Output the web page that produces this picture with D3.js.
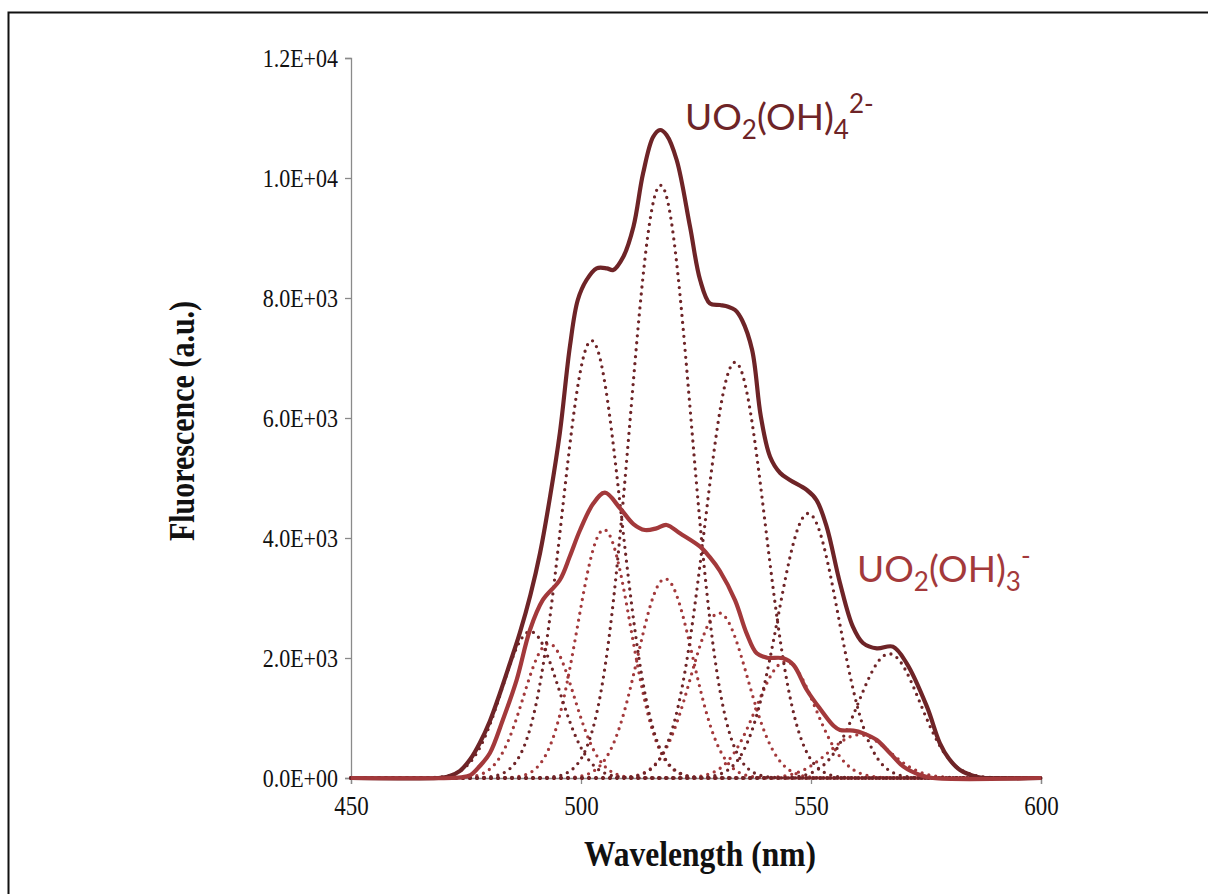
<!DOCTYPE html>
<html>
<head>
<meta charset="utf-8">
<script src="https://cdn.jsdelivr.net/npm/d3@7"></script>
<style>
  body { margin: 0; background: #fff; }
  svg { display: block; }
</style>
</head>
<body>
<svg id="chart" width="1208" height="894"></svg>
<script>
// Axis ranges and ticks
const xDomain = [450, 600];
const yDomain = [0, 12000];
const xTicks = [450, 500, 550, 600];
const yTicks = [0, 2000, 4000, 6000, 8000, 10000, 12000];
const yTickLabels = ["0.0E+00", "2.0E+03", "4.0E+03", "6.0E+03", "8.0E+03", "1.0E+04", "1.2E+04"];

// Measured spectrum of UO2(OH)4^2- : wavelength (nm) and fluorescence (a.u.)
const tetraWavelength = [450, 469, 471, 473.7, 476, 478, 480.2, 482.4, 484.5, 486.7, 489, 491.1, 493.3,
  495.4, 497.6, 499.3, 501.2, 503.4, 505.6, 507.0, 509.2, 511.4, 513.5, 515.7, 517.2, 518.6, 520.8,
  523.7, 525.9, 528.0, 530.2, 532.0, 533.5, 535.0, 537.2, 539.1, 541.1, 543.3, 545.4, 549.1, 551.2,
  553.4, 556.3, 559.1, 561.3, 564.3, 567.8, 570.8, 575.2, 578.0, 580.0, 582.4, 586.0, 588, 600];
const tetraSignal = [0, 0, 20, 120, 320, 583, 950, 1417, 1900, 2417, 3050, 3750, 4700,
  5750, 7200, 7967, 8300, 8495, 8495, 8467, 8688, 9188, 10078, 10688, 10800, 10717, 10300,
  9188, 8300, 7911, 7883, 7855, 7800, 7633, 7133, 6022, 5355, 5083, 4967, 4800, 4633,
  4189, 3250, 2522, 2250, 2161, 2189, 1911, 1189, 583, 320, 133, 22, 0, 0];

// Measured spectrum of UO2(OH)3^- : wavelength (nm) and fluorescence (a.u.)
const triWavelength = [450, 472, 474, 476, 478, 480.2, 483.0, 486.0, 488.9, 491.7, 495.4, 497.6, 499.8,
  502.7, 505.2, 508.5, 511.4, 513.9, 516.4, 518.6, 521.5, 525.9, 528.0, 530.2, 533.5, 536.0, 538.2,
  540.4, 544.0, 546.2, 549.1, 552.0, 554.9, 556.3, 559.2, 561.4, 564.3, 567.2, 570.1, 573.7, 576.5, 600];
const triSignal = [0, 0, 10, 50, 200, 417, 967, 1633, 2467, 2967, 3300, 3700, 4133,
  4578, 4755, 4495, 4233, 4133, 4161, 4217, 4078, 3855, 3680, 3450, 2960, 2411, 2078,
  2005, 1995, 1883, 1467, 1150, 870, 800, 790, 744, 633, 411, 189, 50, 0, 0];

// Fitted Gaussian bands, UO2(OH)4^2- : centre (nm), height (a.u.), sigma (nm)
const tetraCentres = [489.0, 502.3, 517.3, 533.5, 549.4, 567.0];
const tetraHeights = [2440, 7290, 9880, 6930, 4410, 2070];
const tetraSigmas  = [6.2, 6.4, 6.6, 6.6, 6.6, 6.7];

// Fitted Gaussian bands, UO2(OH)3^- : centre (nm), height (a.u.), sigma (nm)
const triCentres = [493.0, 505.0, 518.3, 530.0, 544.5, 560.5];
const triHeights = [2240, 4140, 3320, 2750, 1940, 720];
const triSigmas  = [5.5, 5.8, 6.0, 6.2, 6.4, 6.6];

// Wavelength grid the bands are evaluated on (nm)
const wavelengths = d3.range(450, 600.001, 0.25);

const colours = { tetra: "#6e2427", tri: "#a3393b", axis: "#8a8a8a" };
const serif = "'Liberation Serif', 'Times New Roman', serif";
const stretch = 1.16; // taller-than-wide serif lettering

const svg = d3.select("#chart");

// Outer frame
svg.append("rect")
  .attr("x", 8.5).attr("y", 12.5)
  .attr("width", 1260).attr("height", 940)
  .attr("fill", "none").attr("stroke", "#111").attr("stroke-width", 2);

const plot = { left: 351, right: 1041, top: 58, bottom: 778 };
const x = d3.scaleLinear().domain(xDomain).range([plot.left, plot.right]);
const y = d3.scaleLinear().domain(yDomain).range([plot.bottom, plot.top]);

// Band profiles
function band(c, h, s) {
  return wavelengths.map(w => [w, h * Math.exp(-((w - c) ** 2) / (2 * s * s))]);
}
const bands = (cs, hs, ss) => cs.map((c, i) => band(c, hs[i], ss[i]));
const tetraBands = bands(tetraCentres, tetraHeights, tetraSigmas);
const triBands = bands(triCentres, triHeights, triSigmas);

const tetraSpectrum = tetraWavelength.map((w, i) => [w, tetraSignal[i]]);
const triSpectrum = triWavelength.map((w, i) => [w, triSignal[i]]);

const line = d3.line().x(d => x(d[0])).y(d => y(d[1]));
const smoothLine = d3.line()
  .curve(d3.curveCatmullRom.alpha(0.5))
  .x(d => x(d[0]))
  .y(d => Math.min(y(d[1]), plot.bottom));

// Y axis
const yAxis = d3.axisLeft(y).tickValues(yTicks).tickSize(6).tickFormat((d, i) => yTickLabels[i]);
const gy = svg.append("g").attr("transform", `translate(${plot.left},0)`).call(yAxis);
gy.select(".domain").attr("stroke", colours.axis).attr("stroke-width", 1.3);
gy.selectAll(".tick line").attr("stroke", colours.axis).attr("stroke-width", 1.3);
gy.selectAll(".tick text")
  .attr("x", -13).attr("dy", "0.34em")
  .attr("transform", `scale(1,${stretch})`)
  .attr("fill", "#111")
  .style("font-family", serif)
  .style("font-size", "22px");

// X axis
const xAxis = d3.axisBottom(x).tickValues(xTicks).tickSize(6).tickFormat(d3.format("d"));
const gx = svg.append("g").attr("transform", `translate(0,${plot.bottom})`).call(xAxis);
gx.select(".domain").attr("stroke", colours.axis).attr("stroke-width", 1.3);
gx.selectAll(".tick line").attr("stroke", colours.axis).attr("stroke-width", 1.3);
gx.selectAll(".tick text")
  .attr("y", 37 / stretch).attr("dy", null)
  .attr("transform", `scale(1,${stretch})`)
  .attr("fill", "#111")
  .style("font-family", serif)
  .style("font-size", "23px");

// Axis titles
svg.append("text")
  .attr("transform", `translate(700,866) scale(1,${stretch})`)
  .attr("text-anchor", "middle")
  .style("font-family", serif)
  .style("font-size", "31.5px").style("font-weight", "bold")
  .attr("fill", "#111")
  .text("Wavelength (nm)");

svg.append("text")
  .attr("transform", `translate(194,421) rotate(-90) scale(1,${stretch})`)
  .attr("text-anchor", "middle")
  .style("font-family", serif)
  .style("font-size", "30px").style("font-weight", "bold")
  .attr("fill", "#111")
  .text("Fluorescence (a.u.)");

// Dotted component bands
const dotted = sel => sel
  .attr("d", line)
  .attr("stroke-width", 3.3)
  .attr("stroke-linecap", "round")
  .attr("stroke-dasharray", "0 7");
const comps = svg.append("g").attr("fill", "none");
comps.selectAll("path.tri-band").data(triBands).join("path")
  .attr("class", "tri-band").attr("stroke", colours.tri).call(dotted);
comps.selectAll("path.tetra-band").data(tetraBands).join("path")
  .attr("class", "tetra-band").attr("stroke", colours.tetra).call(dotted);

// Measured spectra
svg.append("path").datum(tetraSpectrum)
  .attr("d", smoothLine).attr("fill", "none")
  .attr("stroke", colours.tetra).attr("stroke-width", 4.2)
  .attr("stroke-linejoin", "round");
svg.append("path").datum(triSpectrum)
  .attr("d", smoothLine).attr("fill", "none")
  .attr("stroke", colours.tri).attr("stroke-width", 4.2)
  .attr("stroke-linejoin", "round");

// Species labels with sub/superscripts
function speciesLabel(px, py, colour, parts) {
  const t = svg.append("text")
    .attr("x", px).attr("y", py)
    .attr("fill", colour)
    .style("font-family", "Lato, 'Open Sans', sans-serif")
    .style("font-size", "37px");
  let shift = 0;
  parts.forEach(p => {
    const target = p.sub ? 9 : p.sup ? -17 : 0;
    t.append("tspan")
      .attr("dy", target - shift)
      .style("font-size", p.sub || p.sup ? "26px" : "37px")
      .text(p.t);
    shift = target;
  });
}

speciesLabel(685, 130, colours.tetra, [
  { t: "UO" }, { t: "2", sub: true }, { t: "(OH)" }, { t: "4", sub: true }, { t: "2-", sup: true }
]);
speciesLabel(857, 582, colours.tri, [
  { t: "UO" }, { t: "2", sub: true }, { t: "(OH)" }, { t: "3", sub: true }, { t: "-", sup: true }
]);
</script>
</body>
</html>
